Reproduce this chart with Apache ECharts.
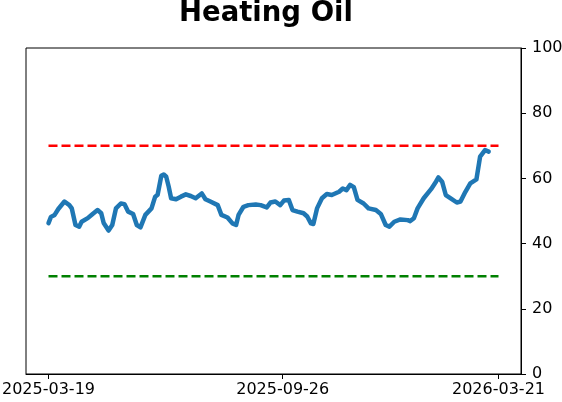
<!DOCTYPE html>
<html>
<head>
<meta charset="utf-8">
<script src="https://cdn.jsdelivr.net/npm/echarts@6/dist/echarts.min.js"></script>
<style>
  html, body { margin: 0; padding: 0; background: #fff; }
  #chart { width: 562px; height: 402px; }
</style>
</head>
<body>
<div id="chart"></div>
<script>
// values
const dates = [
  '2025-03-19', '2025-03-21', '2025-03-24', '2025-03-27', '2025-04-01', '2025-04-05', '2025-04-07',
  '2025-04-10', '2025-04-13', '2025-04-15', '2025-04-20', '2025-04-24', '2025-04-28', '2025-05-01',
  '2025-05-03', '2025-05-07', '2025-05-10', '2025-05-13', '2025-05-17', '2025-05-20', '2025-05-23',
  '2025-05-27', '2025-05-30', '2025-06-02', '2025-06-06', '2025-06-11', '2025-06-14', '2025-06-16',
  '2025-06-19', '2025-06-21', '2025-06-23', '2025-06-25', '2025-06-27', '2025-07-01', '2025-07-05',
  '2025-07-09', '2025-07-13', '2025-07-17', '2025-07-22', '2025-07-25', '2025-07-29', '2025-08-04',
  '2025-08-07', '2025-08-12', '2025-08-16', '2025-08-19', '2025-08-21', '2025-08-25', '2025-08-29',
  '2025-09-04', '2025-09-08', '2025-09-13', '2025-09-16', '2025-09-20', '2025-09-24', '2025-09-27',
  '2025-10-01', '2025-10-04', '2025-10-08', '2025-10-13', '2025-10-16', '2025-10-19', '2025-10-21',
  '2025-10-24', '2025-10-28', '2025-11-01', '2025-11-05', '2025-11-11', '2025-11-14', '2025-11-17',
  '2025-11-20', '2025-11-23', '2025-11-26', '2025-12-01', '2025-12-05', '2025-12-11', '2025-12-15',
  '2025-12-19', '2025-12-22', '2025-12-26', '2025-12-31', '2026-01-06', '2026-01-08', '2026-01-11',
  '2026-01-14', '2026-01-19', '2026-01-25', '2026-01-29', '2026-01-31', '2026-02-03', '2026-02-06',
  '2026-02-10', '2026-02-15', '2026-02-18', '2026-02-22', '2026-02-26', '2026-03-03', '2026-03-06',
  '2026-03-10', '2026-03-13'
];
const values = [
  46.3, 48.2, 48.8, 50.6, 52.9, 51.8, 50.8,
  45.7, 45.2, 46.7, 47.8, 49.1, 50.3, 49.3,
  46.3, 44.0, 45.7, 50.8, 52.3, 52.1, 49.8,
  49.1, 45.7, 45.0, 48.8, 50.8, 54.4, 55.0,
  60.8, 61.2, 60.5, 57.5, 53.9, 53.6, 54.4,
  55.1, 54.6, 53.9, 55.4, 53.6, 52.9, 51.8,
  48.8, 48.0, 46.2, 45.7, 48.8, 51.3, 51.8,
  52.0, 51.8, 51.1, 52.6, 52.9, 51.8, 53.2,
  53.4, 50.3, 49.8, 49.3, 48.3, 46.2, 46.0,
  50.8, 53.9, 55.2, 54.9, 55.9, 56.9, 56.4,
  58.0, 57.3, 53.4, 52.3, 50.8, 50.3, 49.1,
  45.7, 45.2, 46.7, 47.4, 47.2, 46.9, 47.8,
  50.8, 53.9, 56.7, 59.0, 60.3, 59.0, 54.9,
  53.9, 52.6, 52.9, 55.9, 58.5, 59.7, 66.7,
  68.7, 68.2
];
const upperLevel = 70;
const lowerLevel = 30;
const rangeStart = '2025-03-19';
const rangeEnd = '2026-03-21';
const tickDates = ['2025-03-19', '2025-09-26', '2026-03-21'];

const toTime = s => new Date(s + 'T00:00:00').getTime();
const t0 = toTime(rangeStart);
const t1 = toTime(rangeEnd);
const pad = (t1 - t0) * 0.05;
const pad2 = n => (n < 10 ? '0' : '') + n;
const fmt = v => {
  const d = new Date(v);
  return d.getFullYear() + '-' + pad2(d.getMonth() + 1) + '-' + pad2(d.getDate());
};

const font = 'DejaVu Sans';
const chart = echarts.init(document.getElementById('chart'), null, { renderer: 'canvas' });

chart.setOption({
  animation: false,
  backgroundColor: '#fff',
  graphic: [{
    type: 'text',
    left: 179,
    top: 0,
    style: {
      text: 'Heating Oil',
      font: 'bold 27.5px "DejaVu Sans"',
      fill: '#000'
    }
  }],
  grid: {
    left: 26, right: 41, top: 48, bottom: 28,
    containLabel: false, outerBoundsMode: 'none',
    show: true, borderColor: '#000', borderWidth: 1, backgroundColor: 'transparent'
  },
  xAxis: {
    type: 'value',
    min: t0 - pad,
    max: t1 + pad,
    splitLine: { show: false },
    axisLine: { show: true, lineStyle: { color: '#000', width: 1 } },
    axisTick: {
      show: true, length: 5, lineStyle: { color: '#000' },
      customValues: tickDates.map(toTime)
    },
    axisLabel: {
      color: '#000', fontFamily: font, fontSize: 16, margin: 8,
      customValues: tickDates.map(toTime),
      formatter: v => fmt(v),
      showMinLabel: true, showMaxLabel: true
    }
  },
  yAxis: {
    type: 'value',
    position: 'right',
    min: 0, max: 100, interval: 20,
    splitLine: { show: false },
    axisLine: { show: true, lineStyle: { color: '#000', width: 1 } },
    axisTick: { show: true, length: 5, lineStyle: { color: '#000' } },
    axisLabel: { color: '#000', fontFamily: font, fontSize: 16, margin: 11 }
  },
  series: [
    {
      type: 'line',
      data: [[t0, upperLevel], [t1, upperLevel]],
      symbol: 'none',
      lineStyle: { color: '#ff0000', width: 2.5, type: [9, 4] },
      silent: true
    },
    {
      type: 'line',
      data: [[t0, lowerLevel], [t1, lowerLevel]],
      symbol: 'none',
      lineStyle: { color: '#008000', width: 2.5, type: [9, 4] },
      silent: true
    },
    {
      type: 'line',
      data: dates.map((d, i) => [toTime(d), values[i]]),
      symbol: 'none',
      lineStyle: { color: '#1f77b4', width: 4.5, join: 'round', cap: 'round' },
      silent: true
    }
  ]
});
</script>
</body>
</html>
